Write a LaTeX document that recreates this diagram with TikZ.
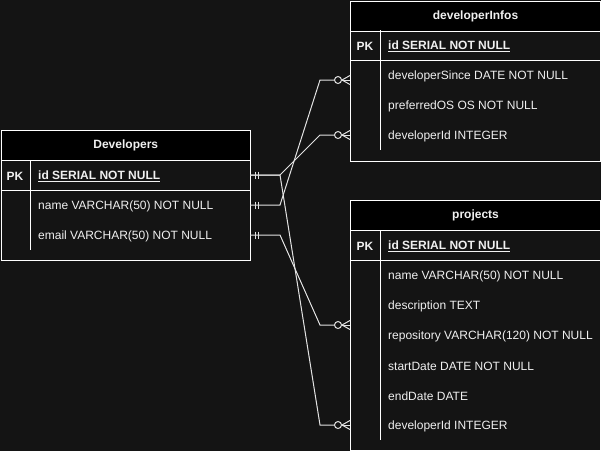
\documentclass[tikz,border=0pt]{standalone}
\usepackage{fontspec}
\setmainfont{Liberation Sans}
\usetikzlibrary{calc}
\definecolor{bg}{HTML}{141414}
\definecolor{fg}{HTML}{F0F0F0}
\definecolor{ln}{HTML}{E2E2E2}
\newcommand\zmany[1]{%
  \draw[conn] ($(#1)+(-12,0)$) circle[radius=3.5pt];
  \draw[conn] ($(#1)+(-8,0)$) -- (#1);
  \draw[conn] ($(#1)+(-8,0)$) -- ($(#1)+(0,-4.5)$);
  \draw[conn] ($(#1)+(-8,0)$) -- ($(#1)+(0,4.5)$);}
\newcommand\mone[1]{%
  \draw[conn] ($(#1)+(5,-3.5)$) -- ++(0,7);
  \draw[conn] ($(#1)+(8.5,-3.5)$) -- ++(0,7);}
\begin{document}
\begin{tikzpicture}[x=1pt,y=-1pt,
  font=\fontsize{12}{14}\selectfont,
  tbl/.style={draw=white, line width=1pt, fill=bg, anchor=north west, inner sep=0pt, minimum width=250pt},
  hdr/.style={draw=white, line width=1pt, fill=black, anchor=north west, inner sep=0pt,
    minimum width=250pt, minimum height=30pt, text=fg, font=\fontsize{12}{14}\selectfont\bfseries},
  rowtxt/.style={anchor=west, text=fg, inner sep=0pt, yshift=-1pt},
  pktxt/.style={anchor=center, text=fg, inner sep=0pt, yshift=-1pt, font=\fontsize{12}{14}\selectfont\bfseries},
  sep/.style={draw=white, line width=1pt},
  conn/.style={draw=ln, line width=1pt}]
\fill[bg] (0,0) rectangle (601,451);
\useasboundingbox (0,0) rectangle (601,451);

% Developers
\node[tbl, minimum height=130pt, minimum width=249.5pt] (dev) at (0.5,130) {};
\node[hdr, minimum width=249.5pt] (devh) at (0.5,130) {Developers};
\draw[sep] (0.5,190) -- (250,190);
\draw[sep] (30,160) -- (30,250);
\node[pktxt] (devpk) at (15,175) {PK};
\node[rowtxt] (devid) at (38,175) {\textbf{\underline{id SERIAL NOT NULL}}};
\node[rowtxt] (devname) at (38,205) {name VARCHAR(50) NOT NULL};
\node[rowtxt] (devemail) at (38,235) {email VARCHAR(50) NOT NULL};

% developerInfos
\node[tbl, minimum height=160pt] (inf) at (350,0.5) {};
\node[hdr] (infh) at (350,0.5) {developerInfos};
\draw[sep] (350,60) -- (600,60);
\draw[sep] (380,30) -- (380,150);
\node[pktxt] (infpk) at (365,45) {PK};
\node[rowtxt] (infid) at (388,45) {\textbf{\underline{id SERIAL NOT NULL}}};
\node[rowtxt] (infsince) at (388,75) {developerSince DATE NOT NULL};
\node[rowtxt] (infos) at (388,105) {preferredOS OS NOT NULL};
\node[rowtxt] (infdev) at (388,135) {developerId INTEGER};

% projects
\node[tbl, minimum height=250pt] (prj) at (350,200) {};
\node[hdr] (prjh) at (350,200) {projects};
\draw[sep] (350,260) -- (600,260);
\draw[sep] (380,230) -- (380,440);
\node[pktxt] (prjpk) at (365,245) {PK};
\node[rowtxt] (prjid) at (388,245) {\textbf{\underline{id SERIAL NOT NULL}}};
\node[rowtxt] (prjname) at (388,275) {name VARCHAR(50) NOT NULL};
\node[rowtxt] (prjdesc) at (388,305) {description TEXT};
\node[rowtxt] (prjrepo) at (388,335) {repository VARCHAR(120) NOT NULL};
\node[rowtxt] (prjstart) at (388,365) {startDate DATE NOT NULL};
\node[rowtxt] (prjend) at (388,395) {endDate DATE};
\node[rowtxt] (prjdev) at (388,425) {developerId INTEGER};

% connection points
\coordinate (sId) at (250,175);
\coordinate (sName) at (250,205);
\coordinate (sEmail) at (250,235);
\coordinate (tInfA) at (350,80);
\coordinate (tInfB) at (350,135);
\coordinate (tPrjA) at (350,325);
\coordinate (tPrjB) at (350,425);

% connectors
\draw[conn] (sId) -- ++(30,0) -- ($(tInfB)+(-30,0)$) -- ($(tInfB)+(-15.5,0)$);
\draw[conn] (sName) -- ++(30,0) -- ($(tInfA)+(-30,0)$) -- ($(tInfA)+(-15.5,0)$);
\draw[conn] (sEmail) -- ++(30,0) -- ($(tPrjA)+(-30,0)$) -- ($(tPrjA)+(-15.5,0)$);
\draw[conn] (sId) -- ++(30,0) -- ($(tPrjB)+(-30,0)$) -- ($(tPrjB)+(-15.5,0)$);

\mone{sId}
\mone{sName}
\mone{sEmail}
\zmany{tInfA}
\zmany{tInfB}
\zmany{tPrjA}
\zmany{tPrjB}
\end{tikzpicture}
\end{document}
